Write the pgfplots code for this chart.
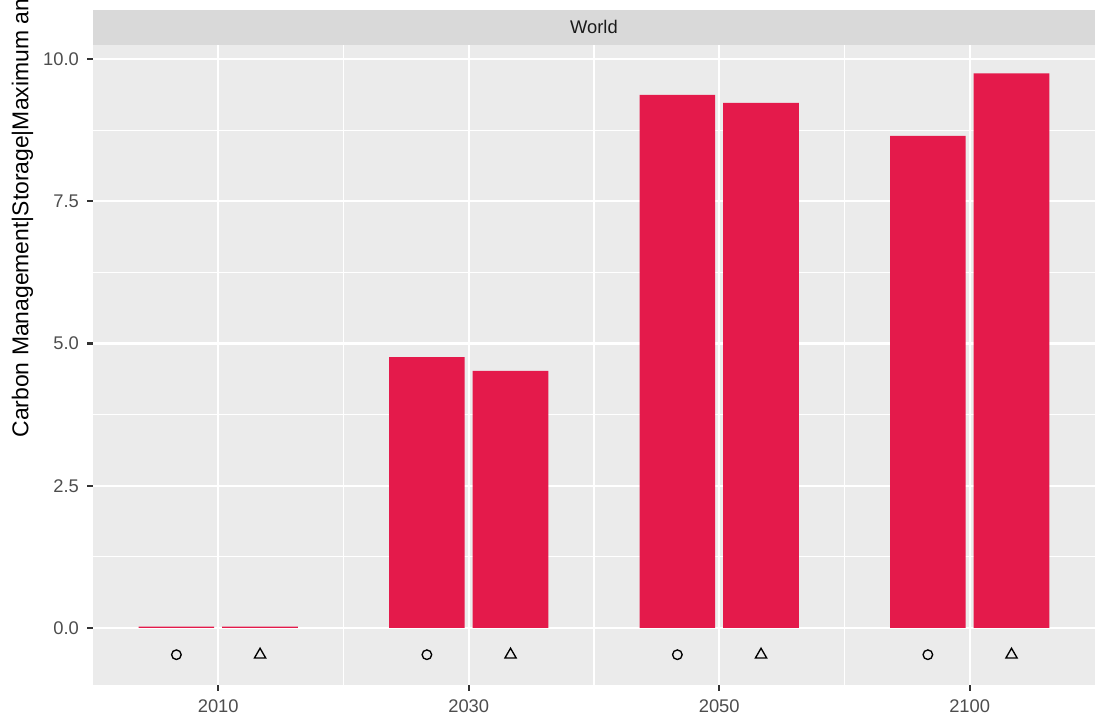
\documentclass[border=0pt]{standalone}
\usepackage{pgfplots}
\pgfplotsset{compat=1.18}
\usepackage{fontspec}
\setmainfont{Liberation Sans}
\definecolor{barred}{HTML}{E41A4B}
\definecolor{panelbg}{HTML}{EBEBEB}
\definecolor{stripbg}{HTML}{D9D9D9}
\definecolor{ticktxt}{HTML}{4D4D4D}
\definecolor{tickcol}{HTML}{333333}
\definecolor{striptxt}{HTML}{1A1A1A}
\begin{document}
\begin{tikzpicture}[x=1pt,y=1pt]
\useasboundingbox (0,0) rectangle (529pt,347pt);
\begin{axis}[
  name=ax,
  at={(44.64pt,18.24pt)}, anchor=south west,
  scale only axis,
  width=480.96pt, height=307.2pt,
  xmin=-0.5, xmax=3.5, ymin=-1.0, ymax=10.25,
  axis background/.style={fill=panelbg},
  axis line style={draw=none},
  xtick={0,1,2,3}, xticklabels={2010,2030,2050,2100},
  ytick={0,2.5,5,7.5,10}, yticklabels={0.0,2.5,5.0,7.5,10.0},
  minor xtick={0.5,1.5,2.5},
  minor ytick={1.25,3.75,6.25,8.75},
  xtick pos=bottom, ytick pos=left,
  tick align=outside,
  major tick length=2.75pt, minor tick length=0pt,
  tick style={draw=tickcol, line width=1.07pt},
  grid=both,
  major grid style={draw=white, line width=1.07pt},
  minor grid style={draw=white, line width=0.53pt},
  tick label style={font=\fontsize{8.8}{10}\selectfont, text=ticktxt},
  /pgf/number format/assume math mode=true,
  xticklabel style={yshift=-1pt},
  yticklabel style={xshift=-0.5pt},
  clip=false,
]
\addplot[ybar, bar width=0.302, bar shift=-0.167, fill=barred, draw=none]
  coordinates {(0,0.025) (1,4.76) (2,9.37) (3,8.65)};
\addplot[ybar, bar width=0.302, bar shift=0.167, fill=barred, draw=none]
  coordinates {(0,0.025) (1,4.52) (2,9.23) (3,9.75)};
\addplot[only marks, mark=o, mark size=2.3pt, mark options={draw=black, line width=0.65pt}]
  coordinates {(-0.167,-0.47) (0.833,-0.47) (1.833,-0.47) (2.833,-0.47)};
\addplot[only marks, mark=triangle, mark size=3.1pt, mark options={draw=black, line width=0.65pt}]
  coordinates {(0.167,-0.47) (1.167,-0.47) (2.167,-0.47) (3.167,-0.47)};
\end{axis}
\fill[stripbg] (ax.north west) rectangle ([yshift=16.8pt]ax.north east);
\node[font=\fontsize{8.8}{10}\selectfont, text=striptxt] at ([yshift=8.4pt]ax.north) {World};
\begin{scope}
\clip (0,0) rectangle (529pt,347pt);
\node[rotate=90, anchor=west, font=\fontsize{11}{13}\selectfont, inner sep=0pt] at (10.8pt,136.8pt) {Carbon Management|Storage|Maximum annual};
\end{scope}
\end{tikzpicture}
\end{document}
